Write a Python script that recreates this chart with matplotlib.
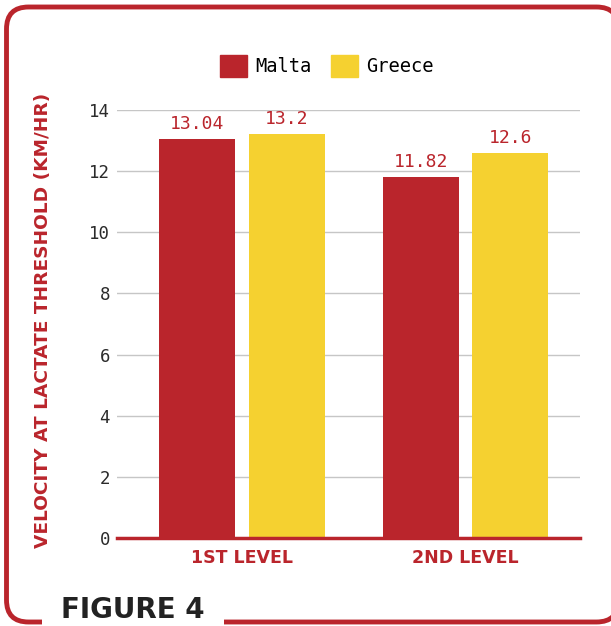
import matplotlib.pyplot as plt
from matplotlib.patches import FancyBboxPatch, Patch, Rectangle
import numpy as np

RED = "#BA252C"
YELLOW = "#F5D130"

levels = ["1ST LEVEL", "2ND LEVEL"]
malta = [13.04, 11.82]
greece = [13.2, 12.6]
yticks = [0, 2, 4, 6, 8, 10, 12, 14]


def main():
    fig = plt.figure(figsize=(6.11, 6.26), dpi=100)
    ax = fig.add_axes([117 / 611, 1 - 538 / 626, 463 / 611, 428 / 626])
    ax.patch.set_alpha(0)

    x = np.arange(len(levels))
    w = 0.34
    off = 0.2
    b1 = ax.bar(x - off, malta, w, color=RED, zorder=3)
    b2 = ax.bar(x + off, greece, w, color=YELLOW, zorder=3)

    mono = "DejaVu Sans Mono"
    for bars, vals in ((b1, malta), (b2, greece)):
        for b, v in zip(bars, vals):
            ax.text(b.get_x() + b.get_width() / 2, v + 0.2, f"{v:g}",
                    ha="center", va="bottom", color=RED, fontsize=13,
                    family=mono)

    ax.set_xlim(-0.56, 1.512)
    ax.set_ylim(0, 14)
    ax.set_yticks(yticks)
    ax.set_yticklabels([str(t) for t in yticks], family=mono, fontsize=12.5,
                       color="#2b2b2b")
    ax.set_xticks(x)
    ax.set_xticklabels(levels, fontsize=12.5, fontweight="bold", color=RED)
    ax.tick_params(axis="both", length=0)
    ax.tick_params(axis="y", pad=5)
    ax.tick_params(axis="x", pad=8)
    ax.grid(axis="y", color="#c6c6c6", linewidth=1, zorder=0)
    for s in ("top", "right", "left"):
        ax.spines[s].set_visible(False)
    ax.spines["bottom"].set_color(RED)
    ax.spines["bottom"].set_linewidth(2.5)
    ax.spines["bottom"].set_zorder(4)

    fig.text(43 / 611, 1 - 320 / 626, "VELOCITY AT LACTATE THRESHOLD (KM/HR)",
             rotation=90, ha="center", va="center", color=RED,
             fontsize=13.3, fontweight="bold")

    handles = [Patch(color=RED, label="Malta"), Patch(color=YELLOW, label="Greece")]
    fig.legend(handles=handles, loc="center", bbox_to_anchor=(327 / 611, 1 - 66 / 626),
               ncol=2, frameon=False, prop={"family": mono, "size": 13.5},
               handlelength=1.45, handleheight=1.45, handletextpad=0.45,
               columnspacing=1.0)

    # rounded red frame, pixel coords (dpi=100); filled so Agg doesn't clip the curves
    frame = FancyBboxPatch((6.5, 4), 612, 615,
                           boxstyle="round,pad=0,rounding_size=22",
                           transform=None, facecolor="white",
                           edgecolor=RED, linewidth=3.5, zorder=-1)
    fig.patches.append(frame)
    # gap in the bottom border for the caption
    fig.patches.append(Rectangle((42, 0), 182, 12, transform=None,
                                 facecolor="white", edgecolor="none", zorder=2))
    fig.text(133 / 611, 2 / 626, "FIGURE 4", ha="center", va="bottom",
             fontsize=20, fontweight="bold", color="#222222", zorder=3)

    fig.savefig("out.png", dpi=100)


if __name__ == "__main__":
    main()
